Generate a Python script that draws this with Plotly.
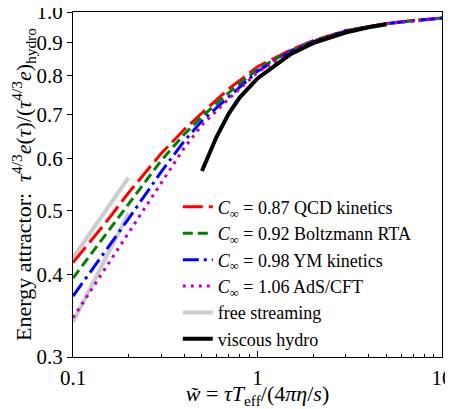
import plotly.graph_objects as go

# ---- data ----
w_att = [0.1, 0.15, 0.2, 0.3, 0.4, 0.5, 0.7, 1.0, 1.5, 2.0, 3.0, 5.0, 7.0, 10.0]
e_qcd = [0.417, 0.479, 0.532, 0.610, 0.663, 0.703, 0.765, 0.826, 0.875, 0.905, 0.937, 0.961, 0.971, 0.979]
e_rta = [0.395, 0.459, 0.512, 0.595, 0.652, 0.694, 0.755, 0.819, 0.873, 0.903, 0.936, 0.960, 0.971, 0.979]
e_ym  = [0.371, 0.434, 0.486, 0.572, 0.637, 0.684, 0.745, 0.813, 0.870, 0.902, 0.936, 0.960, 0.970, 0.979]
e_ads = [0.344, 0.409, 0.462, 0.551, 0.622, 0.674, 0.739, 0.810, 0.869, 0.901, 0.935, 0.960, 0.970, 0.979]

w_fs = [0.1, 0.2]
e_fs_kin = [0.424, 0.561]
e_fs_ads = [0.339, 0.495]

w_hydro = [0.5, 0.6, 0.7, 0.8, 1.0, 1.3, 1.5, 2.0, 3.0, 4.0, 5.0]
e_hydro = [0.574, 0.647, 0.702, 0.742, 0.793, 0.839, 0.862, 0.897, 0.931, 0.948, 0.958]

names = ["<i>C</i><sub>∞</sub> = 0.87 QCD kinetics",
         "<i>C</i><sub>∞</sub> = 0.92 Boltzmann RTA",
         "<i>C</i><sub>∞</sub> = 0.98 YM kinetics",
         "<i>C</i><sub>∞</sub> = 1.06 AdS/CFT",
         "free streaming",
         "viscous hydro"]

yticks = [0.3, 0.4, 0.5, 0.6, 0.7, 0.8, 0.9, 1.0]
ytext = ["0.3", "0.4", "0.5", "0.6", "0.7", "0.8", "0.9", "1.0"]
xticks = [0.1, 1, 10]
xtext = ["0.1", "1", "10"]
xminor = [0.2, 0.3, 0.4, 0.5, 0.6, 0.7, 0.8, 0.9, 2, 3, 4, 5, 6, 7, 8, 9]

FONT = "Liberation Serif"

fig = go.Figure()
# free streaming (drawn first, underneath)
fig.add_trace(go.Scatter(x=w_fs, y=e_fs_kin, mode="lines", name=names[4],
                         line=dict(color="#cccccc", width=4), legendgroup="fs", legendrank=5))
fig.add_trace(go.Scatter(x=w_fs, y=e_fs_ads, mode="lines", name=names[4], showlegend=False,
                         line=dict(color="#cccccc", width=4), legendgroup="fs", legendrank=5))
fig.add_trace(go.Scatter(x=w_att, y=e_qcd, mode="lines", name=names[0],
                         line=dict(color="#ff0000", width=3, dash="20px,6px"), legendgroup="a", legendrank=1))
fig.add_trace(go.Scatter(x=w_att, y=e_rta, mode="lines", name=names[1],
                         line=dict(color="#008000", width=3, dash="10px,5px"), legendgroup="b", legendrank=2))
fig.add_trace(go.Scatter(x=w_att, y=e_ym, mode="lines", name=names[2],
                         line=dict(color="#0000ff", width=3, dash="16px,5px,3px,5px"), legendgroup="c", legendrank=3))
fig.add_trace(go.Scatter(x=w_att, y=e_ads, mode="lines", name=names[3],
                         line=dict(color="#bf00bf", width=3, dash="3px,5px"), legendgroup="d", legendrank=4))
fig.add_trace(go.Scatter(x=w_hydro, y=e_hydro, mode="lines", name=names[5],
                         line=dict(color="#000000", width=4), legendgroup="h", legendrank=6))

# page body adds an 8px offset, so the figure is sized to fill the window after it
fig.update_layout(
    width=445, height=401,
    margin=dict(l=65, r=11, t=4, b=52, autoexpand=False),
    paper_bgcolor="white", plot_bgcolor="white",
    font=dict(family=FONT, size=20, color="black"),
    legend=dict(x=0.284, y=0.488, xanchor="left", yanchor="top",
                bgcolor="rgba(0,0,0,0)", font=dict(size=18),
                traceorder="grouped", tracegroupgap=0, itemwidth=30),
    showlegend=True,
)
fig.update_xaxes(type="log", range=[-1, 1], tickmode="array", tickvals=xticks, ticktext=xtext,
                 ticks="inside", ticklen=6, tickcolor="black", showgrid=False, zeroline=False,
                 showline=True, linecolor="black", linewidth=1, mirror=True, automargin=False,
                 minor=dict(tickvals=xminor, ticks="inside", ticklen=3, tickcolor="black", showgrid=False),
                 ticklabelstandoff=2, tickfont=dict(size=21), ticklabeloverflow="allow",
                 title=dict(text="<i>w̃</i> = <i>τT</i><sub>eff</sub>/(4<i>πη</i>/<i>s</i>)", standoff=0,
                            font=dict(size=22)))
fig.update_yaxes(type="log", range=[-0.52288, 0], tickmode="array", tickvals=yticks, ticktext=ytext,
                 ticks="outside", ticklen=5, tickcolor="black", showgrid=False, zeroline=False,
                 showline=True, linecolor="black", linewidth=1, mirror=True, automargin=False,
                 tickfont=dict(size=21), ticklabeloverflow="allow",
                 title=dict(text="Energy attractor:  <i>τ</i><sup>4/3</sup><i>e</i>(<i>τ</i>)/(<i>τ</i><sup>4/3</sup><i>e</i>)<sub>hydro</sub>",
                            standoff=2, font=dict(size=22)))

fig.write_html("out.html")
